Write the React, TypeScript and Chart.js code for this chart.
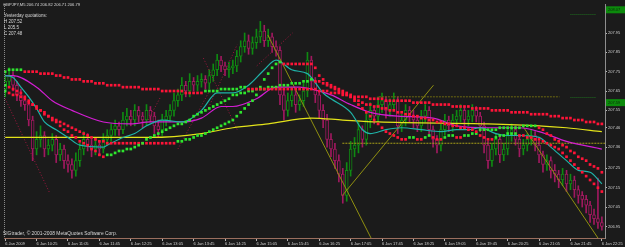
import React, { useEffect, useRef } from 'react';
import { Chart, registerables } from 'chart.js';
Chart.register(...registerables);

// ---------- DATA ----------
const timeLabels = ['6 Jan 2009', '6 Jan 10:25', '6 Jan 11:05', '6 Jan 11:45', '6 Jan 12:25', '6 Jan 13:05', '6 Jan 13:45', '6 Jan 14:25', '6 Jan 15:05', '6 Jan 15:45', '6 Jan 16:25', '6 Jan 17:05', '6 Jan 17:45', '6 Jan 18:25', '6 Jan 19:05', '6 Jan 19:45', '6 Jan 20:25', '6 Jan 21:05', '6 Jan 21:45', '6 Jan 22:25'];
const barsPerLabel = 8;
const priceTicks = [207.95, 207.85, 207.75, 207.65, 207.55, 207.46, 207.36, 207.25, 207.15, 207.05, 206.95];

const opens = [
207.66,207.70,207.73,207.68,207.63,207.60,207.58,207.50,207.35,207.40,
207.42,207.35,207.37,207.40,207.32,207.35,207.29,207.27,207.24,207.29,
207.35,207.40,207.37,207.35,207.37,207.35,207.40,207.42,207.45,207.47,
207.45,207.50,207.52,207.50,207.55,207.52,207.50,207.55,207.52,207.47,
207.45,207.50,207.52,207.55,207.60,207.63,207.68,207.65,207.70,207.68,
207.70,207.71,207.69,207.73,207.76,207.81,207.78,207.76,207.77,207.78,
207.83,207.88,207.91,207.87,207.90,207.93,207.96,207.91,207.93,207.88,
207.86,207.63,207.55,207.60,207.63,207.58,207.60,207.65,207.81,207.70,
207.63,207.55,207.50,207.40,207.35,207.29,207.22,207.11,207.24,207.35,
207.37,207.45,207.40,207.50,207.55,207.52,207.58,207.60,207.55,207.58,
207.60,207.47,207.50,207.55,207.52,207.50,207.47,207.52,207.55,207.45,
207.40,207.37,207.45,207.50,207.47,207.50,207.52,207.55,207.50,207.52,
207.55,207.52,207.47,207.37,207.29,207.35,207.40,207.32,207.35,207.42,
207.45,207.40,207.35,207.37,207.40,207.42,207.37,207.32,207.27,207.29,
207.24,207.22,207.19,207.22,207.17,207.19,207.14,207.11,207.09,207.06,
207.01,206.99,206.97];
const highs = [
207.74,207.77,207.75,207.70,207.66,207.62,207.60,207.52,207.44,207.47,
207.44,207.40,207.43,207.42,207.38,207.37,207.32,207.30,207.33,207.38,
207.44,207.43,207.40,207.41,207.39,207.43,207.45,207.48,207.50,207.49,
207.54,207.56,207.55,207.58,207.57,207.54,207.58,207.57,207.54,207.50,
207.53,207.55,207.58,207.64,207.66,207.72,207.70,207.74,207.72,207.73,
207.74,207.73,207.76,207.79,207.84,207.83,207.80,207.80,207.81,207.86,
207.91,207.95,207.94,207.93,207.97,208.01,207.99,207.97,207.95,207.91,
207.88,207.66,207.64,207.67,207.66,207.63,207.69,207.85,207.83,207.72,
207.65,207.58,207.53,207.43,207.38,207.32,207.25,207.28,207.39,207.41,
207.49,207.47,207.54,207.59,207.57,207.62,207.64,207.62,207.61,207.64,
207.62,207.53,207.58,207.57,207.55,207.52,207.55,207.58,207.57,207.47,
207.42,207.48,207.53,207.52,207.53,207.55,207.58,207.57,207.55,207.58,
207.57,207.54,207.49,207.39,207.38,207.43,207.42,207.38,207.45,207.48,
207.47,207.42,207.40,207.43,207.45,207.44,207.39,207.34,207.32,207.31,
207.27,207.24,207.25,207.24,207.22,207.21,207.16,207.13,207.11,207.08,
207.04,207.20,207.00];
const lows = [
207.62,207.67,207.65,207.60,207.57,207.55,207.47,207.29,207.32,207.36,
207.31,207.32,207.34,207.28,207.29,207.25,207.23,207.20,207.21,207.26,
207.32,207.34,207.31,207.32,207.32,207.33,207.37,207.39,207.42,207.42,
207.43,207.47,207.47,207.47,207.49,207.46,207.47,207.49,207.43,207.41,
207.42,207.47,207.49,207.52,207.57,207.60,207.62,207.62,207.65,207.65,
207.67,207.66,207.66,207.70,207.73,207.75,207.73,207.72,207.74,207.75,
207.80,207.85,207.84,207.84,207.87,207.90,207.88,207.88,207.85,207.83,
207.58,207.50,207.52,207.57,207.54,207.55,207.57,207.62,207.66,207.59,
207.51,207.46,207.36,207.31,207.25,207.18,207.07,207.08,207.21,207.31,
207.33,207.36,207.37,207.46,207.48,207.49,207.54,207.51,207.52,207.55,
207.43,207.44,207.47,207.49,207.46,207.44,207.44,207.49,207.42,207.36,
207.33,207.34,207.42,207.44,207.44,207.47,207.49,207.47,207.47,207.49,
207.49,207.44,207.33,207.25,207.26,207.32,207.28,207.29,207.32,207.39,
207.37,207.31,207.32,207.34,207.37,207.34,207.28,207.23,207.24,207.20,
207.18,207.15,207.16,207.13,207.14,207.10,207.07,207.05,207.02,206.97,
206.96,206.94,206.93];
const closes = [
207.70,207.73,207.68,207.63,207.60,207.58,207.50,207.35,207.40,207.42,
207.35,207.37,207.40,207.32,207.35,207.29,207.27,207.24,207.29,207.35,
207.40,207.37,207.35,207.37,207.35,207.40,207.42,207.45,207.47,207.45,
207.50,207.52,207.50,207.55,207.52,207.50,207.55,207.52,207.47,207.45,
207.50,207.52,207.55,207.60,207.63,207.68,207.65,207.70,207.68,207.70,
207.71,207.69,207.73,207.76,207.81,207.78,207.76,207.77,207.78,207.83,
207.88,207.91,207.87,207.90,207.93,207.96,207.91,207.93,207.88,207.86,
207.63,207.55,207.60,207.63,207.58,207.60,207.65,207.81,207.70,207.63,
207.55,207.50,207.40,207.35,207.29,207.22,207.11,207.24,207.35,207.37,
207.45,207.40,207.50,207.55,207.52,207.58,207.60,207.55,207.58,207.60,
207.47,207.50,207.55,207.52,207.50,207.47,207.52,207.55,207.45,207.40,
207.37,207.45,207.50,207.47,207.50,207.52,207.55,207.50,207.52,207.55,
207.52,207.47,207.37,207.29,207.35,207.40,207.32,207.35,207.42,207.45,
207.40,207.35,207.37,207.40,207.42,207.37,207.32,207.27,207.29,207.24,
207.22,207.19,207.22,207.17,207.19,207.14,207.11,207.09,207.06,207.01,
206.99,206.97,206.95];

// dotted trend averages (slow / medium / fast), one value per bar
const slowDots = [
207.75,207.76,207.76,207.76,207.76,207.75,207.75,207.75,207.75,207.74,
207.74,207.74,207.74,207.73,207.73,207.72,207.72,207.71,207.71,207.71,
207.70,207.70,207.70,207.69,207.69,207.69,207.68,207.68,207.68,207.68,
207.67,207.67,207.67,207.67,207.67,207.66,207.66,207.66,207.66,207.66,
207.65,207.65,207.65,207.65,207.65,207.65,207.64,207.64,207.64,207.64,
207.64,207.65,207.65,207.65,207.65,207.66,207.66,207.66,207.66,207.66,
207.67,207.67,207.66,207.66,207.66,207.66,207.66,207.66,207.66,207.66,
207.66,207.66,207.66,207.66,207.66,207.66,207.66,207.66,207.66,207.66,
207.65,207.65,207.65,207.64,207.64,207.64,207.63,207.63,207.63,207.62,
207.62,207.62,207.62,207.61,207.61,207.61,207.61,207.60,207.60,207.60,
207.60,207.60,207.60,207.60,207.59,207.59,207.59,207.59,207.59,207.58,
207.58,207.58,207.58,207.58,207.57,207.57,207.57,207.57,207.57,207.56,
207.56,207.56,207.56,207.56,207.55,207.55,207.55,207.55,207.55,207.54,
207.54,207.54,207.54,207.54,207.53,207.53,207.53,207.53,207.53,207.52,
207.52,207.52,207.51,207.51,207.51,207.50,207.50,207.50,207.49,207.49,
207.49,207.48,207.48];
const mediumDots = [
207.65,207.64,207.63,207.63,207.62,207.61,207.59,207.58,207.56,207.55,
207.53,207.52,207.50,207.49,207.47,207.45,207.44,207.42,207.41,207.39,
207.38,207.37,207.35,207.34,207.32,207.31,207.32,207.32,207.33,207.34,
207.34,207.35,207.35,207.36,207.37,207.38,207.40,207.41,207.42,207.43,
207.44,207.45,207.46,207.47,207.48,207.48,207.49,207.50,207.52,207.53,
207.54,207.55,207.56,207.57,207.58,207.59,207.60,207.61,207.63,207.63,
207.64,207.64,207.65,207.65,207.66,207.66,207.66,207.67,207.67,207.67,
207.68,207.68,207.68,207.69,207.69,207.69,207.70,207.70,207.71,207.70,
207.70,207.69,207.68,207.67,207.66,207.65,207.64,207.63,207.62,207.61,
207.60,207.59,207.58,207.58,207.57,207.57,207.56,207.56,207.55,207.55,
207.54,207.54,207.53,207.53,207.52,207.52,207.51,207.51,207.50,207.50,
207.49,207.49,207.48,207.48,207.47,207.47,207.46,207.46,207.45,207.45,
207.44,207.45,207.45,207.45,207.45,207.45,207.46,207.46,207.46,207.46,
207.46,207.46,207.47,207.47,207.47,207.47,207.46,207.45,207.43,207.42,
207.40,207.39,207.37,207.36,207.34,207.33,207.31,207.30,207.29,207.27,
207.26,207.25,207.23];
const fastDots = [
207.68,207.67,207.66,207.65,207.64,207.62,207.60,207.58,207.57,207.55,
207.54,207.52,207.51,207.50,207.49,207.48,207.47,207.46,207.45,207.44,
207.43,207.42,207.41,207.40,207.39,207.39,207.38,207.38,207.38,207.38,
207.38,207.38,207.38,207.38,207.38,207.38,207.38,207.38,207.38,207.38,
207.38,207.38,207.38,207.38,207.39,207.39,207.40,207.40,207.41,207.42,
207.42,207.43,207.44,207.45,207.46,207.47,207.48,207.49,207.50,207.52,
207.54,207.56,207.58,207.60,207.63,207.67,207.71,207.74,207.77,207.79,
207.80,207.79,207.79,207.79,207.79,207.79,207.79,207.79,207.79,207.77,
207.73,207.71,207.69,207.68,207.67,207.66,207.65,207.64,207.62,207.60,
207.58,207.56,207.54,207.52,207.50,207.48,207.46,207.44,207.43,207.42,
207.41,207.40,207.40,207.41,207.41,207.40,207.40,207.41,207.42,207.41,
207.40,207.40,207.41,207.42,207.42,207.41,207.41,207.42,207.42,207.43,
207.43,207.42,207.41,207.40,207.40,207.41,207.42,207.42,207.43,207.43,
207.43,207.42,207.42,207.41,207.41,207.40,207.40,207.39,207.38,207.37,
207.36,207.35,207.33,207.31,207.29,207.27,207.25,207.23,207.21,207.19,
207.17,207.15,207.13];

// moving averages read at knots (bar index, price)
const yellowMaBars = [0, 24, 37, 50, 58, 67, 78, 86, 95, 123, 136, 143, 152];
const yellowMaValues = [207.41, 207.41, 207.41, 207.43, 207.46, 207.48, 207.51, 207.50, 207.49, 207.48, 207.47, 207.46, 207.44];
const magentaMaBars = [0, 2, 8, 12, 17, 25, 32, 37, 45, 50, 55, 58, 64, 69, 75, 78, 83, 88, 93, 100, 109, 115, 123, 131, 136, 143, 152];
const magentaMaValues = [207.73, 207.73, 207.67, 207.60, 207.55, 207.49, 207.48, 207.49, 207.49, 207.51, 207.57, 207.57, 207.61, 207.67, 207.67, 207.66, 207.63, 207.58, 207.54, 207.52, 207.51, 207.47, 207.46, 207.46, 207.44, 207.39, 207.35];
const cyanMaBars = [0, 2, 4, 6, 8, 10, 13, 16, 19, 25, 26, 30, 33, 36, 40, 45, 50, 54, 58, 62, 66, 69, 73, 77, 78, 81, 83, 88, 91, 93, 97, 101, 106, 111, 115, 118, 121, 125, 128, 131, 136, 139, 143, 146, 149, 152];
const cyanMaValues = [207.73, 207.72, 207.67, 207.62, 207.56, 207.49, 207.45, 207.41, 207.37, 207.36, 207.37, 207.41, 207.43, 207.47, 207.50, 207.49, 207.55, 207.64, 207.64, 207.68, 207.76, 207.81, 207.76, 207.74, 207.72, 207.64, 207.61, 207.54, 207.45, 207.43, 207.45, 207.46, 207.45, 207.44, 207.45, 207.45, 207.46, 207.43, 207.42, 207.42, 207.41, 207.36, 207.29, 207.24, 207.23, 207.17];

// drawn trend lines: [bar1, price1, bar2, price2]
const redTrendLines = [
  [0, 207.61, 11.4, 207.12],
  [50.5, 207.82, 59.1, 207.45],
  [51.5, 207.55, 59.1, 207.89],
  [64.1, 207.78, 73.2, 207.95],
  [44, 207.35, 52.3, 207.66],
  [36.4, 207.50, 39.6, 207.62],
];
const oliveTrendLines = [
  [66.9, 207.94, 93.2, 206.89],
  [85.9, 207.11, 109.1, 207.68],
  [131.8, 207.47, 151, 206.89],
];
const levelLines = [
  [95.2, 207.62, 141.2, 207.62],
  [85.9, 207.38, 152.8, 207.38],
];
const markerPrices = [208.07, 207.59];
const headerText = 'GBPJPY,M5 206.74 206.82 206.71 206.79';
const infoLines = ['Yesterday quotations:', 'H 207.52', 'L 205.5', 'C 207.48'];
const copyrightText = 'SIGtrader, \u00a9 2001-2008 MetaQuotes Software Corp.';

// ---------- STYLE ----------
const BG = '#1b1b1b';
const UP = '#0f8a12';
const DOWN = '#a0195f';
const DOT_RED = '#ff1438';
const DOT_GREEN = '#2ee62e';
const FONT = 'Liberation Sans';

function trendColors(arr: number[]) {
  const out: string[] = [];
  let c = DOT_GREEN;
  for (let i = 0; i < arr.length; i++) {
    if (i > 0) {
      if (arr[i] > arr[i - 1]) c = DOT_GREEN;
      else if (arr[i] < arr[i - 1]) c = DOT_RED;
    }
    out.push(c);
  }
  return out;
}

const decorPlugin = {
  id: 'decor',
  beforeDraw(chart: any) {
    const { ctx, width, height } = chart;
    ctx.save();
    ctx.fillStyle = BG;
    ctx.fillRect(0, 0, width, height);
    ctx.restore();
  },
  afterDraw(chart: any) {
    const { ctx, chartArea } = chart;
    const ys = chart.scales.y;
    const xs = chart.scales.x;
    ctx.save();
    ctx.strokeStyle = '#8a8a8a';
    ctx.setLineDash([1, 1]);
    ctx.lineWidth = 1;
    ctx.beginPath();
    ctx.moveTo(chartArea.left + 0.5, chartArea.top);
    ctx.lineTo(chartArea.left + 0.5, chartArea.bottom);
    ctx.stroke();
    ctx.setLineDash([]);
    ctx.fillStyle = '#d8d8d8';
    ctx.textBaseline = 'middle';
    ctx.textAlign = 'left';
    ctx.font = `4.1px "${FONT}"`;
    ctx.fillText(headerText, 3, 5);
    ctx.font = `4.5px "${FONT}"`;
    infoLines.forEach((t, k) => ctx.fillText(t, 4, 16 + k * 6));
    ctx.font = `4.9px "${FONT}"`;
    ctx.fillText(copyrightText, 3, chartArea.bottom - 4);
    ctx.strokeStyle = '#1f6d1f';
    ctx.setLineDash([1, 1]);
    [208.05, 207.62].forEach((p) => {
      const y = Math.round(ys.getPixelForValue(p)) + 0.5;
      ctx.beginPath();
      ctx.moveTo(xs.getPixelForValue(144), y);
      ctx.lineTo(xs.getPixelForValue(150.5), y);
      ctx.stroke();
    });
    ctx.setLineDash([]);
    markerPrices.forEach((p) => {
      const y = ys.getPixelForValue(p);
      ctx.fillStyle = '#0c8a0c';
      ctx.fillRect(chartArea.right + 1, y - 3.5, 19, 7);
      ctx.fillStyle = '#0a2a0a';
      ctx.font = `4px "${FONT}"`;
      ctx.fillText(p.toFixed(2), chartArea.right + 3, y);
    });
    ctx.restore();
  },
};

export default function App() {
  const ref = useRef<HTMLCanvasElement | null>(null);
  useEffect(() => {
    document.body.style.margin = '0';
    document.body.style.background = BG;
    const bodies = opens.map((o, i) => ({ x: i, y: [o, closes[i]] }));
    const wicks = highs.map((h, i) => ({ x: i, y: [lows[i], h] }));
    const isUp = opens.map((o, i) => closes[i] >= o);
    const dotSet = (arr: number[], r: number, order: number) => ({
      type: 'line' as const,
      data: arr.map((v, i) => ({ x: i, y: v })),
      showLine: false,
      pointStyle: 'rect',
      pointRadius: r,
      pointBorderWidth: 0,
      pointBackgroundColor: trendColors(arr),
      order,
    });
    const maSet = (bars: number[], vals: number[], color: string, order: number) => ({
      type: 'line' as const,
      data: bars.map((b, i) => ({ x: b, y: vals[i] })),
      borderColor: color,
      borderWidth: 1.2,
      pointRadius: 0,
      cubicInterpolationMode: 'monotone' as const,
      order,
    });
    const segSet = (seg: number[], color: string, dash: number[], order: number) => ({
      type: 'line' as const,
      data: [{ x: seg[0], y: seg[1] }, { x: seg[2], y: seg[3] }],
      borderColor: color,
      borderWidth: 1,
      borderDash: dash,
      pointRadius: 0,
      order,
    });
    const datasets: any[] = [
      dotSet(slowDots, 1.9, 0),
      dotSet(mediumDots, 1.9, 0),
      dotSet(fastDots, 1.9, 0),
      maSet(cyanMaBars, cyanMaValues, '#1fb3a8', 1),
      maSet(magentaMaBars, magentaMaValues, '#d21ed2', 1),
      maSet(yellowMaBars, yellowMaValues, '#e3e31a', 1),
      ...redTrendLines.map((s) => segSet(s, '#a3163f', [1, 2], 2)),
      ...oliveTrendLines.map((s) => segSet(s, '#8f8f10', [], 2)),
      segSet(levelLines[0], '#6e6a10', [2, 1], 2),
      segSet(levelLines[1], '#a8a018', [2, 1], 2),
      {
        type: 'bar',
        data: bodies,
        backgroundColor: BG,
        borderColor: isUp.map((u) => (u ? UP : DOWN)),
        borderWidth: 1,
        borderSkipped: false,
        barThickness: 3,
        grouped: false,
        order: 3,
      },
      {
        type: 'bar',
        data: wicks,
        backgroundColor: isUp.map((u) => (u ? UP : DOWN)),
        borderWidth: 0,
        barThickness: 1,
        grouped: false,
        order: 4,
      },
    ];
    const chart = new Chart(ref.current as HTMLCanvasElement, {
      type: 'bar',
      data: { datasets },
      plugins: [decorPlugin],
      options: {
        responsive: false,
        animation: false,
        devicePixelRatio: 1,
        layout: { padding: { left: 2, top: 2, right: 0, bottom: 0 } },
        plugins: { legend: { display: false }, tooltip: { enabled: false } },
        scales: {
          x: {
            type: 'linear',
            offset: false,
            min: -0.3,
            max: 152.8,
            afterBuildTicks: (s: any) => {
              s.ticks = timeLabels.map((_, k) => ({ value: k * barsPerLabel }));
            },
            afterFit: (s: any) => {
              s.height = 9;
            },
            ticks: {
              autoSkip: false,
              maxRotation: 0,
              align: 'start',
              padding: 0,
              color: '#d0d0d0',
              font: { size: 4, family: FONT },
              callback: (_v: any, i: number) => timeLabels[i],
            },
            grid: { display: true, offset: false, drawOnChartArea: false, drawTicks: true, tickLength: 3, color: '#b8b8b8' },
            border: { display: true, color: '#9a6e5e' },
          },
          y: {
            position: 'right',
            min: 206.89,
            max: 208.1,
            afterBuildTicks: (s: any) => {
              s.ticks = priceTicks.map((v) => ({ value: v }));
            },
            afterFit: (s: any) => {
              s.width = 20;
            },
            ticks: {
              padding: 1,
              color: '#d0d0d0',
              font: { size: 4, family: FONT },
              callback: (v: any) => Number(v).toFixed(2),
            },
            grid: { display: true, drawOnChartArea: false, drawTicks: true, tickLength: 2, color: '#b8b8b8' },
            border: { display: true, color: '#8e8e8e' },
          },
        },
      } as any,
    });
    return () => chart.destroy();
  }, []);
  return (
    <div style={{ width: 625, height: 247, background: BG }}>
      <canvas ref={ref} width={625} height={247} style={{ display: 'block' }} />
    </div>
  );
}
